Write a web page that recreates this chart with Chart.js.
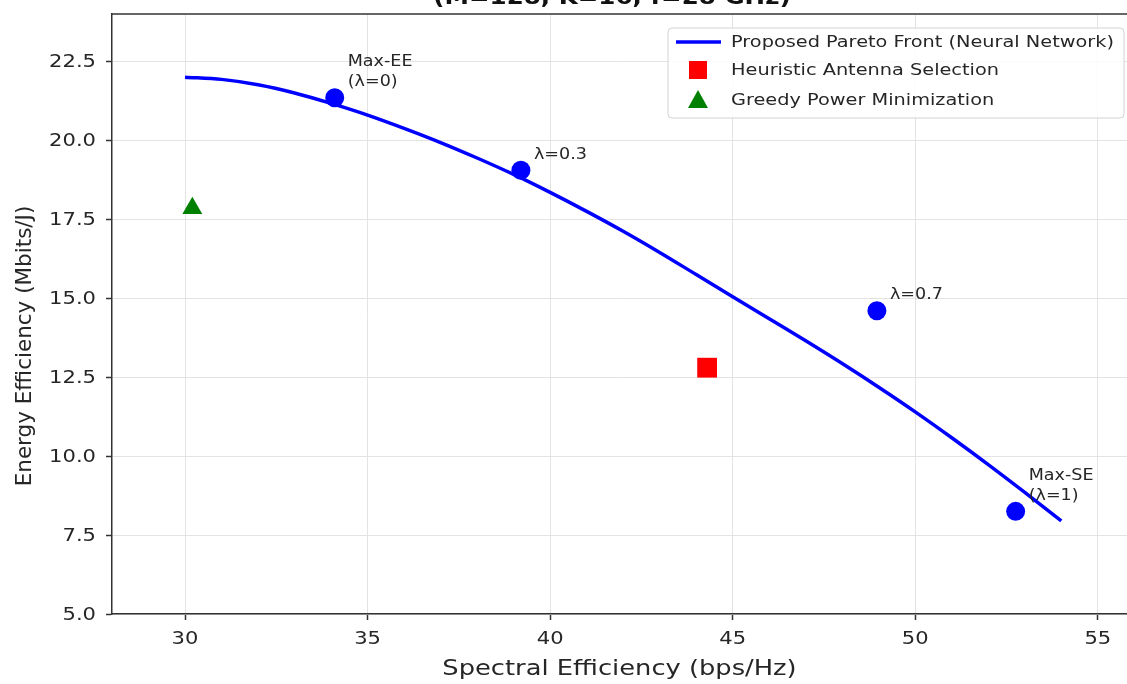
<!DOCTYPE html>
<html>
<head>
<meta charset="utf-8">
<script src="https://cdn.jsdelivr.net/npm/chart.js@4.4.0/dist/chart.umd.min.js"></script>
<style>
  html, body { margin: 0; padding: 0; background: #fff; }
  #wrap { width: 1127px; height: 684px; position: relative; }
</style>
</head>
<body>
<div id="wrap"><canvas id="chart"></canvas></div>
<script>
const titleText = '(M=128, K=16, f=28 GHz)';
const xTitle = 'Spectral Efficiency (bps/Hz)';
const yTitle = 'Energy Efficiency (Mbits/J)';
const seriesNames = [
  'Proposed Pareto Front (Neural Network)',
  'Heuristic Antenna Selection',
  'Greedy Power Minimization'
];

// pareto front
const frontSE = [30, 31, 32, 33, 34, 35, 36, 37, 38, 39, 40, 41, 42,
                 43, 44, 45, 46, 47, 48, 49, 50, 51, 52, 53, 54];
const frontEE = [22.0, 21.93, 21.76, 21.5, 21.17, 20.8, 20.38, 19.93, 19.44, 18.92, 18.35, 17.75, 17.12,
                 16.45, 15.75, 15.05, 14.35, 13.65, 12.93, 12.18, 11.4, 10.58, 9.73, 8.85, 7.95];

// lambda operating points
const pointSE = [34.1, 39.2, 48.95, 52.75];
const pointEE = [21.35, 19.05, 14.6, 8.25];
const pointLabels = ['Max-EE\n(λ=0)', 'λ=0.3', 'λ=0.7', 'Max-SE\n(λ=1)'];

// baselines
const heuristicSE = [44.3];
const heuristicEE = [12.8];
const greedySE = [30.2];
const greedyEE = [17.85];

const xTicks = [30, 35, 40, 45, 50, 55];
const yTicks = [5, 7.5, 10, 12.5, 15, 17.5, 20, 22.5];

const FONT = 'DejaVu Sans';
const TEXT = '#262626';
const SX = 1.17;   // horizontal text in the source is a bit wide

const pts = (xs, ys) => xs.map((x, i) => ({x: x, y: ys[i]}));

function wideText(ctx, text, x, y, align, baseline) {
  ctx.save();
  ctx.translate(x, y);
  ctx.scale(SX, 1);
  ctx.textAlign = align;
  ctx.textBaseline = baseline;
  ctx.fillText(text, 0, 0);
  ctx.restore();
}

// top spine, tick labels, axis titles and the clipped title
const framePlugin = {
  id: 'frame',
  beforeDatasetsDraw(chart) {
    const {ctx, chartArea} = chart;
    ctx.save();
    ctx.strokeStyle = '#333';
    ctx.lineWidth = 1.5;
    ctx.beginPath();
    ctx.moveTo(chartArea.left, chartArea.top);
    ctx.lineTo(chartArea.right, chartArea.top);
    ctx.stroke();
    ctx.restore();
  },
  afterDraw(chart) {
    const {ctx, chartArea, scales} = chart;
    ctx.save();
    ctx.fillStyle = TEXT;
    ctx.font = '18px ' + FONT;
    xTicks.forEach(v => {
      wideText(ctx, String(v), scales.x.getPixelForValue(v), chartArea.bottom + 25, 'center', 'middle');
    });
    yTicks.forEach(v => {
      wideText(ctx, v.toFixed(1), chartArea.left - 16, scales.y.getPixelForValue(v) + 1, 'right', 'middle');
    });

    ctx.font = '22px ' + FONT;
    wideText(ctx, xTitle, (chartArea.left + chartArea.right) / 2, 669, 'center', 'middle');

    ctx.save();
    ctx.font = '21.5px ' + FONT;
    ctx.translate(25, 346);
    ctx.rotate(-Math.PI / 2);
    ctx.textAlign = 'center';
    ctx.textBaseline = 'middle';
    ctx.fillText(yTitle, 0, 0);
    ctx.restore();

    ctx.fillStyle = '#111';
    ctx.font = 'bold 21px ' + FONT;
    wideText(ctx, titleText, 612, 4, 'center', 'alphabetic');
    ctx.restore();
  }
};

// text next to the lambda points
const notePlugin = {
  id: 'notes',
  afterDatasetsDraw(chart) {
    const {ctx} = chart;
    const meta = chart.getDatasetMeta(3);
    ctx.save();
    ctx.fillStyle = TEXT;
    ctx.font = '15px ' + FONT;
    meta.data.forEach((el, i) => {
      const lines = pointLabels[i].split('\n');
      const x = el.x + 13;
      let y = el.y - 8;
      for (let k = lines.length - 1; k >= 0; k--) {
        wideText(ctx, lines[k], x, y, 'left', 'bottom');
        y -= 20;
      }
    });
    ctx.restore();
  }
};

// legend box inside the plot, top right
const legendPlugin = {
  id: 'boxLegend',
  afterDraw(chart) {
    const {ctx} = chart;
    const bx = 668, by = 28, bw = 456, bh = 90;
    ctx.save();
    ctx.beginPath();
    ctx.roundRect(bx, by, bw, bh, 4);
    ctx.fillStyle = 'rgba(255,255,255,0.85)';
    ctx.fill();
    ctx.strokeStyle = '#d2d2d2';
    ctx.lineWidth = 1;
    ctx.stroke();

    const rows = [42, 70, 100];
    ctx.font = '16.5px ' + FONT;
    [0, 1, 2].forEach((d, i) => {
      const ds = chart.data.datasets[d];
      const y = rows[i];
      const cx = 698;
      ctx.fillStyle = ds.backgroundColor;
      ctx.strokeStyle = ds.borderColor;
      if (ds.pointStyle === 'rect') {
        ctx.fillRect(cx - 9, y - 9, 18, 18);
      } else if (ds.pointStyle === 'triangle') {
        ctx.beginPath();
        ctx.moveTo(cx, y - 10);
        ctx.lineTo(cx + 10, y + 8);
        ctx.lineTo(cx - 10, y + 8);
        ctx.closePath();
        ctx.fill();
      } else {
        ctx.lineWidth = 3.5;
        ctx.beginPath();
        ctx.moveTo(676, y);
        ctx.lineTo(721, y);
        ctx.stroke();
      }
      ctx.fillStyle = TEXT;
      wideText(ctx, ds.label, 731, y + 1, 'left', 'middle');
    });
    ctx.restore();
  }
};

new Chart(document.getElementById('chart'), {
  type: 'scatter',
  data: {
    datasets: [
      {
        label: seriesNames[0],
        data: pts(frontSE, frontEE),
        showLine: true,
        borderColor: '#0000ff',
        backgroundColor: '#0000ff',
        borderWidth: 3.5,
        pointRadius: 0,
        cubicInterpolationMode: 'monotone',
        order: 3
      },
      {
        label: seriesNames[1],
        data: pts(heuristicSE, heuristicEE),
        pointStyle: 'rect',
        pointRadius: 14,
        borderWidth: 0,
        backgroundColor: '#ff0000',
        borderColor: '#ff0000',
        order: 1
      },
      {
        label: seriesNames[2],
        data: pts(greedySE, greedyEE),
        pointStyle: 'triangle',
        pointRadius: 11.5,
        borderWidth: 0,
        backgroundColor: '#008000',
        borderColor: '#008000',
        order: 1
      },
      {
        label: '',
        data: pts(pointSE, pointEE),
        pointStyle: 'circle',
        pointRadius: 9.5,
        borderWidth: 0,
        backgroundColor: '#0000ff',
        borderColor: '#0000ff',
        order: 1
      }
    ]
  },
  options: {
    responsive: true,
    maintainAspectRatio: false,
    animation: false,
    layout: {autoPadding: false, padding: {top: 14, right: 0, left: 0, bottom: 0}},
    plugins: {
      legend: {display: false},
      title: {display: false},
      tooltip: {enabled: false}
    },
    scales: {
      x: {
        type: 'linear',
        min: 28,
        max: 55.8,
        afterFit: (s) => { s.height = 70; s.paddingLeft = 0; s.paddingRight = 0; },
        afterBuildTicks: (s) => { s.ticks = xTicks.map(v => ({value: v})); },
        grid: {color: '#e3e3e3', lineWidth: 1, tickColor: '#333', tickLength: 6, tickWidth: 1.5},
        border: {color: '#333', width: 1.5},
        ticks: {display: false}
      },
      y: {
        type: 'linear',
        min: 5,
        max: 24,
        afterFit: (s) => { s.width = 112; s.paddingTop = 0; s.paddingBottom = 0; },
        afterBuildTicks: (s) => { s.ticks = yTicks.map(v => ({value: v})); },
        grid: {color: '#e3e3e3', lineWidth: 1, tickColor: '#333', tickLength: 6, tickWidth: 1.5},
        border: {color: '#333', width: 1.5},
        ticks: {display: false}
      }
    }
  },
  plugins: [framePlugin, notePlugin, legendPlugin]
});
</script>
</body>
</html>
